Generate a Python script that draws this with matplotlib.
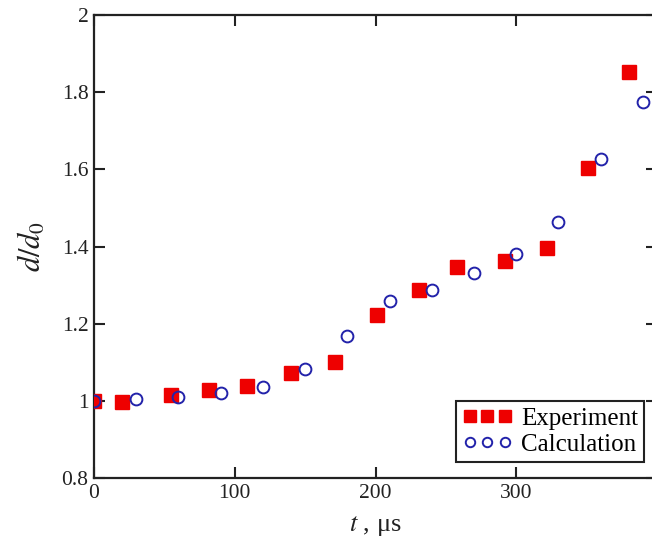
import matplotlib
matplotlib.use("Agg")
import matplotlib.pyplot as plt

# Data
t_exp = [0, 20, 55, 82, 109, 140, 171, 201, 231, 258, 292, 322, 351, 380]
d_exp = [1.0, 0.997, 1.015, 1.028, 1.038, 1.073, 1.101, 1.222, 1.286, 1.346, 1.363, 1.395, 1.603, 1.852]

t_calc = [0, 30, 60, 90, 120, 150, 180, 210, 240, 270, 300, 330, 360, 390]
d_calc = [1.0, 1.005, 1.009, 1.020, 1.036, 1.083, 1.168, 1.259, 1.286, 1.332, 1.381, 1.464, 1.626, 1.775]

x_ticks = [0, 100, 200, 300, 400]
x_ticklabels = ["0", "100", "200", "300", ""]
y_ticks = [0.8, 1.0, 1.2, 1.4, 1.6, 1.8, 2.0]
y_ticklabels = ["0.8", "1", "1.2", "1.4", "1.6", "1.8", "2"]

plt.rcParams['font.family'] = ['Liberation Serif', 'DejaVu Serif']
plt.rcParams['mathtext.fontset'] = 'stix'

W, H = 652, 548
fig = plt.figure(figsize=(W / 100, H / 100), dpi=100)
x0, x1, y_top, y_bot = 94, 657, 15, 478
ax = fig.add_axes([x0 / W, 1 - y_bot / H, (x1 - x0) / W, (y_bot - y_top) / H])

red = '#ee0000'
blue = '#2222aa'
ax.plot(t_exp, d_exp, linestyle='none', marker='s', ms=10, color=red,
        mec=red, label='Experiment', zorder=3)
ax.plot(t_calc, d_calc, linestyle='none', marker='o', ms=8.5, mfc='none',
        mec=blue, mew=1.4, label='Calculation', zorder=4)

ax.set_xlim(0, 400)
ax.set_ylim(0.8, 2.0)
ax.set_xticks(x_ticks)
ax.set_xticklabels(x_ticklabels)
ax.set_yticks(y_ticks)
ax.set_yticklabels(y_ticklabels)

ax.tick_params(direction='in', length=8, width=1.5, top=True, right=True,
               labelsize=15.5, colors='#222222', pad=4)
for s in ax.spines.values():
    s.set_linewidth(1.6)
    s.set_color('#222222')

ax.set_xlabel(r'$t$ , μs', fontsize=19, color='#222222', labelpad=8)
ax.set_ylabel(r'$d/d_0$', fontsize=22, color='#222222', labelpad=10)

leg = fig.legend(loc='lower right', bbox_to_anchor=(644 / W, 1 - 462 / H),
                 numpoints=3, fontsize=18, frameon=True, fancybox=False,
                 framealpha=1, edgecolor='#222222', handlelength=2.0,
                 handletextpad=0.35, borderpad=0.25, labelspacing=0.15,
                 borderaxespad=0, markerscale=0.8)
leg.get_frame().set_linewidth(1.5)

fig.savefig('out.png', dpi=100)
